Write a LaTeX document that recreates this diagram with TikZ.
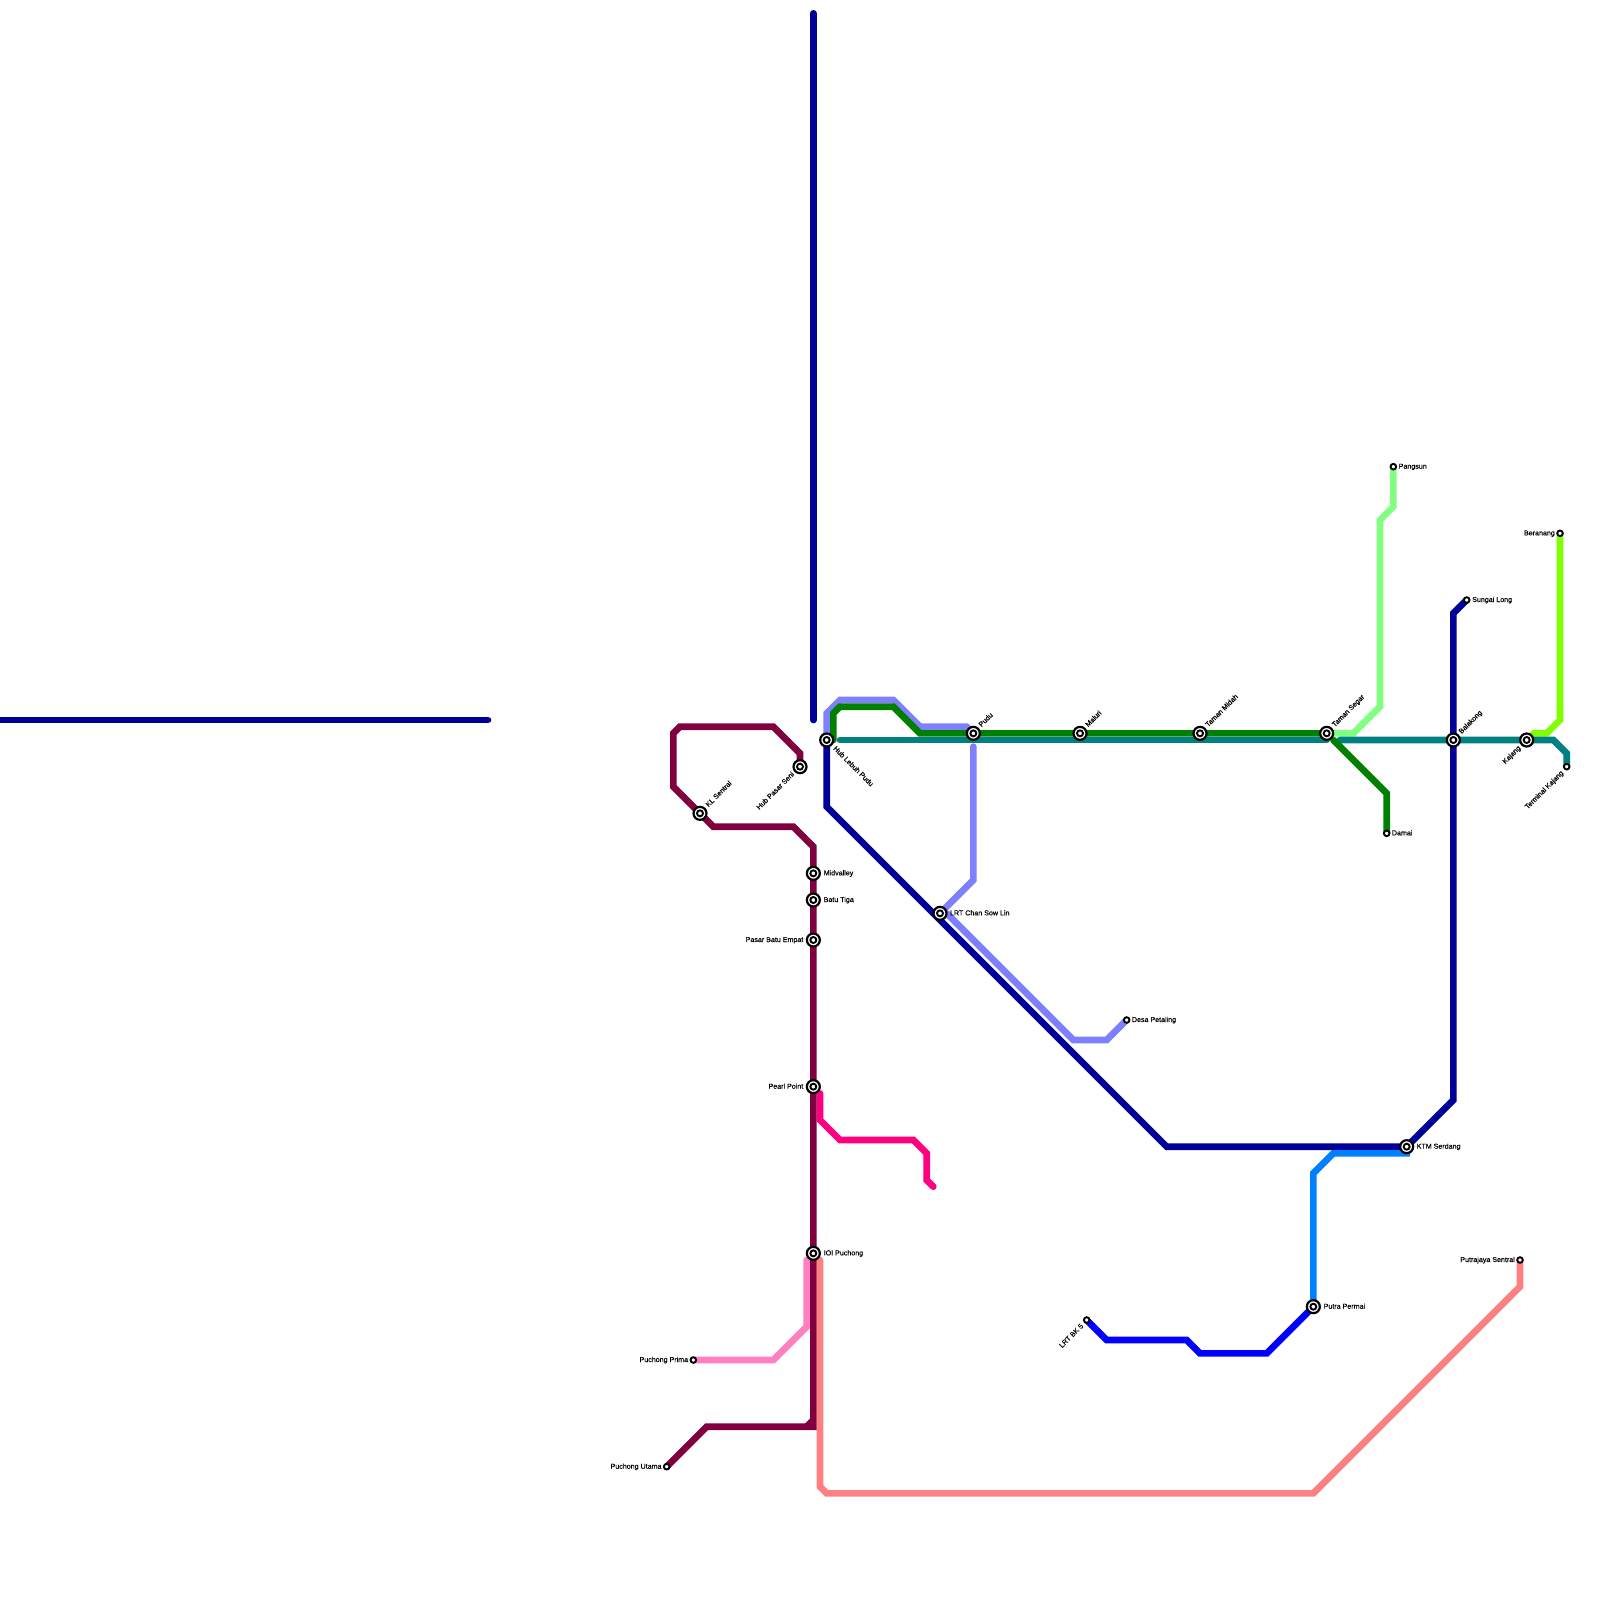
\documentclass[tikz,border=0pt]{standalone}
\usepackage{fontspec}
\setmainfont[FakeBold=0.3]{Liberation Sans}
\usetikzlibrary{backgrounds}
\definecolor{navy}{HTML}{000099}
\definecolor{maroonline}{HTML}{800040}
\definecolor{peri}{HTML}{8080FF}
\definecolor{greenline}{HTML}{008000}
\definecolor{tealline}{HTML}{008080}
\definecolor{mint}{HTML}{80FF80}
\definecolor{limeline}{HTML}{80FF00}
\definecolor{sky}{HTML}{0080FF}
\definecolor{blueline}{HTML}{0000FF}
\definecolor{salmon}{HTML}{FF8080}
\definecolor{pinkline}{HTML}{FF80C0}
\definecolor{hotpink}{HTML}{FF0080}
\tikzset{
  railline/.style={line width=6.67pt,line cap=round,line join=miter,miter limit=10},
  hubstop/.style={circle,draw=black,fill=white,line width=2.2pt,minimum size=13pt,inner sep=0pt,
    path picture={\draw[black,line width=1.9pt] (path picture bounding box.center) circle (3pt);}},
  endstop/.style={circle,draw=black,fill=white,line width=1.9pt,minimum size=5.6pt,inner sep=0pt},
  lab/.style={font=\fontsize{7.1}{8}\selectfont,text=black,inner sep=0pt,text height=4pt,text depth=0pt},
  labr/.style={lab,anchor=west},
  labl/.style={lab,anchor=east},
  labup/.style={lab,anchor=west,rotate=45},
  labdown/.style={lab,anchor=west,rotate=-45},
  labback/.style={lab,anchor=east,rotate=45}
}
\begin{document}
\begin{tikzpicture}[x=1pt,y=-1pt]
\useasboundingbox (0,0) rectangle (1600,1600);
% stations
\node[hubstop] (hub) at (826.67,740) {};
\node[hubstop] (pasarseni) at (800,766.67) {};
\node[hubstop] (klsentral) at (700,813.33) {};
\node[hubstop] (midvalley) at (813.33,873.33) {};
\node[hubstop] (batutiga) at (813.33,900) {};
\node[hubstop] (batuempat) at (813.33,940) {};
\node[hubstop] (pearl) at (813.33,1086.67) {};
\node[hubstop] (ioi) at (813.33,1253.33) {};
\node[hubstop] (chansowlin) at (940,913.33) {};
\node[hubstop] (pudu) at (973.33,733.33) {};
\node[hubstop] (maluri) at (1080,733.33) {};
\node[hubstop] (midah) at (1200,733.33) {};
\node[hubstop] (segar) at (1326.67,733.33) {};
\node[hubstop] (balakong) at (1453.33,740) {};
\node[hubstop] (kajang) at (1526.67,740) {};
\node[hubstop] (serdang) at (1406.67,1146.67) {};
\node[hubstop] (putra) at (1313.33,1306.67) {};
\node[endstop] (pangsun) at (1393.33,466.67) {};
\node[endstop] (beranang) at (1560,533.33) {};
\node[endstop] (sungailong) at (1466.67,600) {};
\node[endstop] (damai) at (1386.67,833.33) {};
\node[endstop] (terminal) at (1566.67,766.67) {};
\node[endstop] (desa) at (1126.67,1020) {};
\node[endstop] (putrajaya) at (1520,1260) {};
\node[endstop] (bk5) at (1086.67,1320) {};
\node[endstop] (prima) at (693.33,1360) {};
\node[endstop] (utama) at (666.67,1466.67) {};
% free line ends
\coordinate (navytop) at (813.33,13.33);
\coordinate (navyend) at (813.33,720);
\coordinate (navyleft) at (0,720);
\coordinate (navyright) at (488,720);
\coordinate (tealstart) at (840,740);
\coordinate (tealstop) at (1326.67,740);
\coordinate (tealgap) at (1340,740);
\coordinate (pudubelow) at (973.33,746.67);
\coordinate (chanbelow) at (946.67,913.33);
\coordinate (pinkend) at (933.33,1186.67);
\coordinate (pinkstart) at (820,1093.33);
\coordinate (salmontop) at (820,1260);
\coordinate (pinktop) at (806.67,1260);
\coordinate (limestart) at (1533.33,733.33);
\coordinate (greenfork) at (1333.33,740);
\coordinate (greenstart) at (833.33,740);
% labels
\node[labup] (lkl) at (707,806) {KL Sentral};
\node[labback] (lps) at (793.3,773.3) {Hub Pasar Seni};
\node[labdown] (lhub) at (834.2,747.5) {Hub Lebuh Pudu};
\node[labr] (lmv) at (823.5,873.33) {Midvalley};
\node[labr] (lbt) at (823.5,900) {Batu Tiga};
\node[labl] (lbe) at (803.5,940) {Pasar Batu Empat};
\node[labl] (lpp) at (803.5,1086.67) {Pearl Point};
\node[labr] (lioi) at (823.5,1253.33) {IOI Puchong};
\node[labr] (lcsl) at (949.8,913.33) {LRT Chan Sow Lin};
\node[labup] (lpudu) at (980,726) {Pudu};
\node[labup] (lmal) at (1086.7,726) {Maluri};
\node[labup] (lmid) at (1206.7,726) {Taman Midah};
\node[labup] (lseg) at (1333.3,726) {Taman Segar};
\node[labup] (lbal) at (1460,732.8) {Balakong};
\node[labback] (lkaj) at (1519.7,747) {Kajang};
\node[labback] (lter) at (1562.5,772) {Terminal Kajang};
\node[labr] (lsk) at (1416.5,1146.67) {KTM Serdang};
\node[labr] (lpt) at (1323.5,1306.67) {Putra Permai};
\node[labr] (lpan) at (1398.5,466.67) {Pangsun};
\node[labl] (lber) at (1555,533.33) {Beranang};
\node[labr] (lsl) at (1472,600) {Sungai Long};
\node[labr] (ldam) at (1391.7,833.33) {Damai};
\node[labr] (ldes) at (1131.7,1020) {Desa Petaling};
\node[labl] (lpj) at (1515,1260) {Putrajaya Sentral};
\node[labback] (lbk) at (1082.5,1325) {LRT BK 5};
\node[labl] (lpr) at (688.3,1360) {Puchong Prima};
\node[labl] (lut) at (661.7,1466.67) {Puchong Utama};
\begin{scope}[on background layer]
\fill[white] (0,0) rectangle (1600,1600);
% light lines
\draw[railline,salmon] (salmontop) -- (820,1486.67) -- (826.67,1493.33) -- (1313.33,1493.33) -- (1520,1286.67) -- (putrajaya.center);
\draw[railline,pinkline] (pinktop) -- (806.67,1326.67) -- (773.33,1360) -- (prima.center);
\draw[railline,hotpink] (pinkstart) -- (820,1120) -- (840,1140) -- (913.33,1140) -- (926.67,1153.33) -- (926.67,1180) -- (pinkend);
% maroon
\draw[railline,maroonline] (pasarseni.center) -- (800,753.33) -- (773.33,726.67) -- (680,726.67) -- (673.33,733.33) -- (673.33,786.67) -- (klsentral.center) -- (713.33,826.67) -- (793.33,826.67) -- (813.33,846.67) -- (midvalley.center) -- (batutiga.center) -- (batuempat.center) -- (pearl.center) -- (ioi.center) -- (813.33,1426.67) -- (706.67,1426.67) -- (utama.center);
\draw[railline,maroonline,line cap=butt] (813.33,1420) -- (806.67,1426.67);
% periwinkle
\draw[railline,peri] (hub.center) -- (826.67,713.33) -- (840,700) -- (893.33,700) -- (920,726.67) -- (966.67,726.67) -- (pudu.center);
\draw[railline,peri] (pudubelow) -- (973.33,880) -- (chansowlin.center);
\draw[railline,peri] (chanbelow) -- (1073.33,1040) -- (1106.67,1040) -- (desa.center);
% navy
\draw[railline,navy] (navytop) -- (navyend);
\draw[railline,navy] (navyleft) -- (navyright);
\draw[railline,navy] (hub.center) -- (826.67,806.67) -- (1166.67,1146.67) -- (serdang.center) -- (1453.33,1100) -- (balakong.center) -- (1453.33,613.33) -- (sungailong.center);
% sky, blue
\draw[railline,sky] (serdang.center) -- (1406.67,1153.33) -- (1333.33,1153.33) -- (1313.33,1173.33) -- (putra.center);
\draw[railline,blueline] (bk5.center) -- (1106.67,1340) -- (1186.67,1340) -- (1200,1353.33) -- (1266.67,1353.33) -- (putra.center);
% mint, lime
\draw[railline,mint] (segar.center) -- (1353.33,733.33) -- (1380,706.67) -- (1380,520) -- (1393.33,506.67) -- (pangsun.center);
\draw[railline,limeline] (limestart) -- (1546.67,733.33) -- (1560,720) -- (beranang.center);
% teal
\draw[railline,tealline] (tealstart) -- (tealstop);
\draw[railline,tealline] (tealgap) -- (balakong.center) -- (kajang.center) -- (1553.33,740) -- (1566.67,753.33) -- (terminal.center);
% green
\draw[railline,greenline] (greenstart) -- (833.33,713.33) -- (840,706.67) -- (893.33,706.67) -- (920,733.33) -- (pudu.center) -- (maluri.center) -- (midah.center) -- (segar.center);
\draw[railline,greenline] (greenfork) -- (1386.67,793.33) -- (damai.center);
\end{scope}
\end{tikzpicture}
\end{document}
